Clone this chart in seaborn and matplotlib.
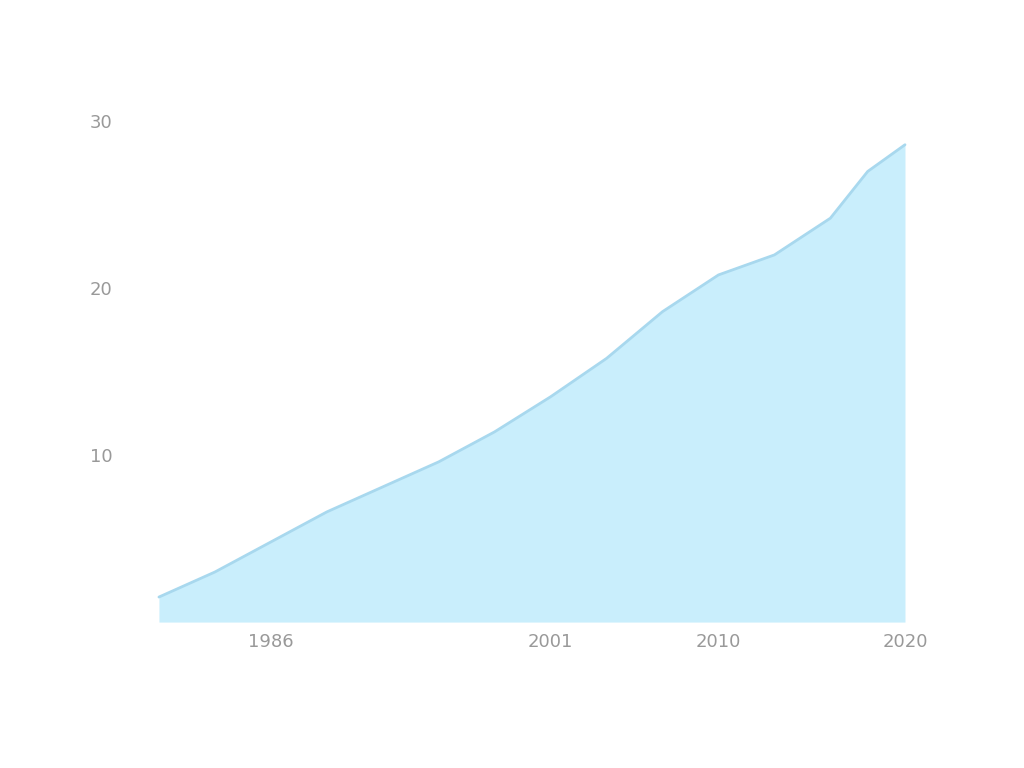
import matplotlib
matplotlib.use("Agg")
import matplotlib.pyplot as plt
import seaborn as sns
import pandas as pd

years = [1980, 1983, 1986, 1989, 1992, 1995, 1998, 2001, 2004, 2007, 2010, 2013, 2016, 2018, 2020]
values = [1.5, 3.0, 4.8, 6.6, 8.1, 9.6, 11.4, 13.5, 15.8, 18.6, 20.8, 22.0, 24.2, 27.0, 28.6]
x_ticks = [1986, 2001, 2010, 2020]
y_ticks = [10, 20, 30]

df = pd.DataFrame({"year": years, "value": values})

sns.set_theme(style="white")
plt.rcParams['font.family'] = ['DejaVu Sans']

fig = plt.figure(figsize=(10.24, 7.68), dpi=100)
ax = fig.add_axes([0.137, 0.19, 0.765, 0.665])

sns.lineplot(data=df, x="year", y="value", ax=ax, color="#a8d8ee", linewidth=2)
ax.fill_between(df["year"], df["value"], 0, color="#c9eefc", alpha=1.0, linewidth=0)

ax.set_xlim(1979, 2021)
ax.set_ylim(0, 30.6)
ax.set_xticks(x_ticks)
ax.set_xticklabels([str(t) for t in x_ticks], color="#999999", fontsize=13)
ax.set_yticks(y_ticks)
ax.set_yticklabels([str(t) for t in y_ticks], color="#999999", fontsize=13)
ax.set_xlabel("")
ax.set_ylabel("")
ax.tick_params(axis="x", length=0, pad=8)
ax.tick_params(axis="y", length=0, pad=20)
sns.despine(ax=ax, left=True, bottom=True)

fig.savefig("out.png", dpi=100)
